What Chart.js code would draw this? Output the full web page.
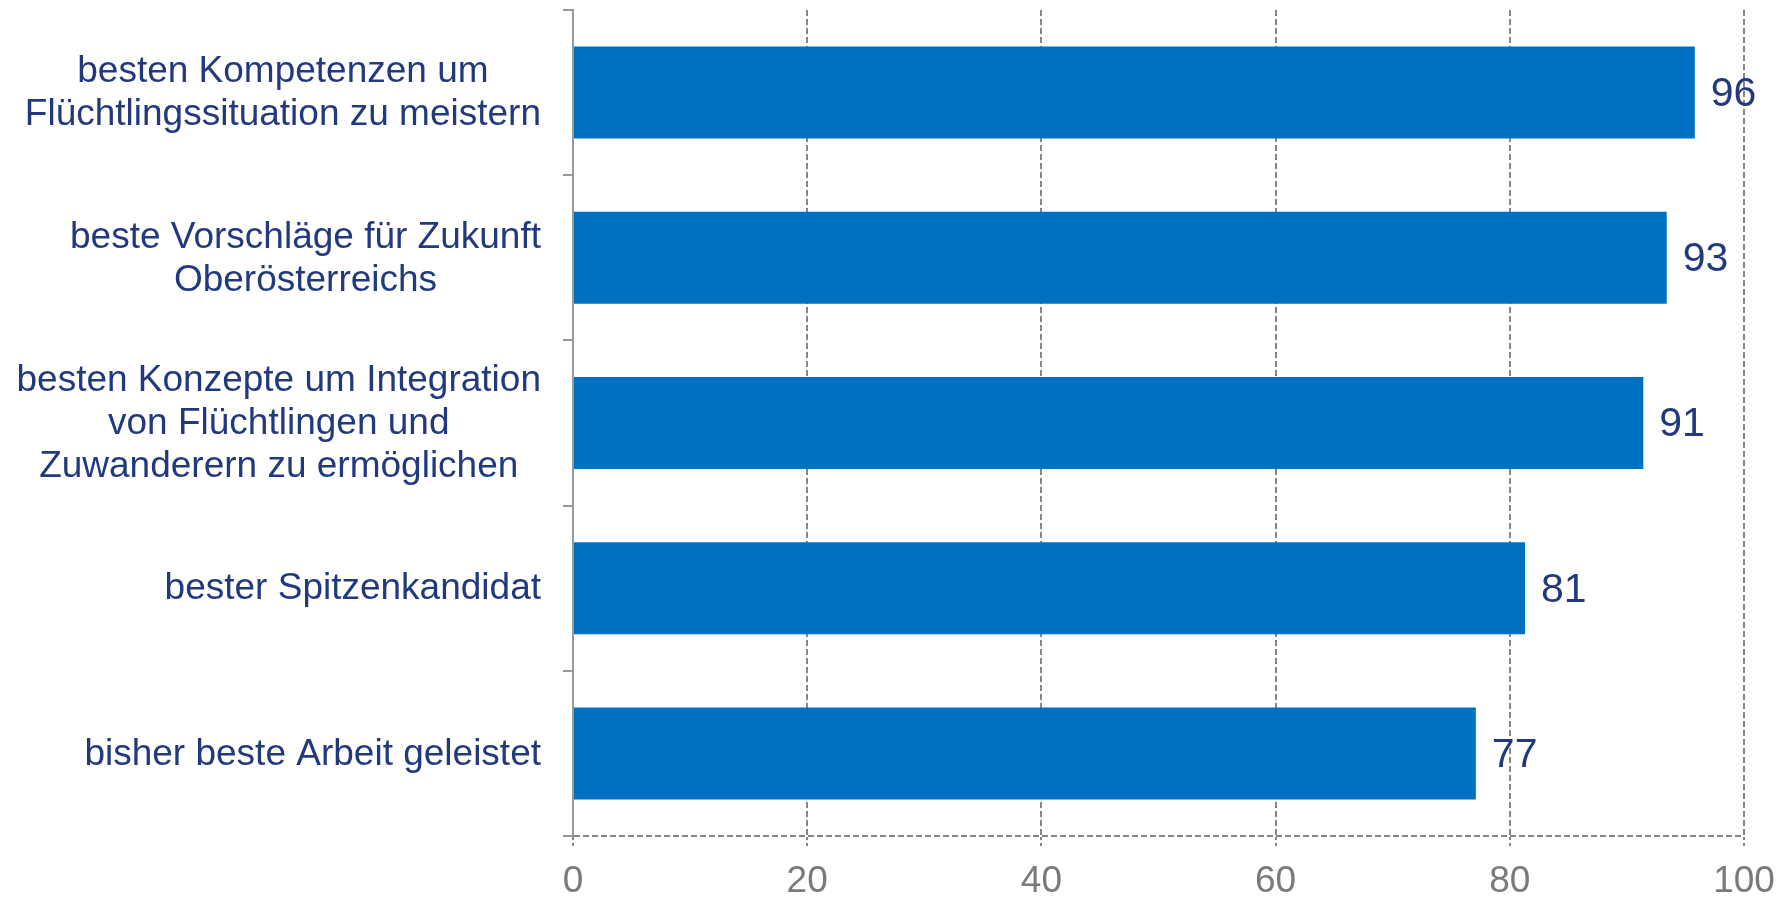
<!DOCTYPE html>
<html>
<head>
<meta charset="utf-8">
<script src="https://cdn.jsdelivr.net/npm/chart.js@4"></script>
<style>
  html, body { margin: 0; padding: 0; background: #fff; }
  #wrap { width: 1790px; height: 898px; }
</style>
</head>
<body>
<div id="wrap"><canvas id="graph1" width="1790" height="898"></canvas></div>
<script>
var categories = [
    ['besten Kompetenzen um', 'Flüchtlingssituation zu meistern'],
    ['beste Vorschläge für Zukunft', 'Oberösterreichs'],
    ['besten Konzepte um Integration', 'von Flüchtlingen und', 'Zuwanderern zu ermöglichen'],
    ['bester Spitzenkandidat'],
    ['bisher beste Arbeit geleistet']
];
var values = [95.8, 93.4, 91.4, 81.3, 77.1];
var xTicks = [0, 20, 40, 60, 80, 100];

var navy = '#223A7D';
var gridGrey = '#868686';
var font = 'Arial, "Liberation Sans", sans-serif';

// labels of the categories: block right aligned, lines centered inside
var catLabels = {
    id: 'catLabels',
    afterDraw: function (chart) {
        var ctx = chart.ctx;
        var y = chart.scales.y;
        ctx.save();
        ctx.font = '37px ' + font;
        ctx.fillStyle = navy;
        ctx.textAlign = 'center';
        ctx.textBaseline = 'middle';
        categories.forEach(function (lines, i) {
            var w = 0;
            lines.forEach(function (l) { w = Math.max(w, ctx.measureText(l).width); });
            var cx = 541 - w / 2;
            var cy = y.getPixelForValue(i) + 1;
            var lh = 43;
            lines.forEach(function (l, j) {
                ctx.fillText(l, cx, cy + (j - (lines.length - 1) / 2) * lh);
            });
        });
        ctx.restore();
    }
};

// value labels at the end of each bar
var valueLabels = {
    id: 'valueLabels',
    afterDatasetsDraw: function (chart) {
        var ctx = chart.ctx;
        var meta = chart.getDatasetMeta(0);
        ctx.save();
        ctx.font = '41px ' + font;
        ctx.fillStyle = navy;
        ctx.textAlign = 'left';
        ctx.textBaseline = 'middle';
        meta.data.forEach(function (bar, i) {
            ctx.fillText(Math.round(values[i]), bar.x + 16, bar.y + 2);
        });
        ctx.restore();
    }
};

var ctx = document.getElementById('graph1').getContext('2d');
var graph1 = new Chart(ctx, {
    type: 'bar',
    data: {
        labels: categories,
        datasets: [{
            data: values,
            backgroundColor: '#0070C0',
            borderWidth: 0,
            barPercentage: 0.557,
            categoryPercentage: 1
        }]
    },
    options: {
        indexAxis: 'y',
        responsive: false,
        animation: false,
        layout: { padding: { top: 10, right: 46, left: 0, bottom: 0 } },
        plugins: { legend: { display: false }, tooltip: { enabled: false } },
        scales: {
            x: {
                min: 0,
                max: 100,
                afterBuildTicks: function (scale) {
                    scale.ticks = xTicks.map(function (v) { return { value: v }; });
                },
                afterFit: function (scale) { scale.height = 62; },
                grid: {
                    color: gridGrey,
                    lineWidth: 2,
                    drawTicks: true,
                    tickLength: 11,
                    tickColor: gridGrey,
                    tickWidth: 2,
                    tickBorderDash: [3, 3]
                },
                // solid axis line hidden, the dashed one comes from the y grid
                border: { display: true, color: 'transparent', width: 2, dash: [6, 3] },
                ticks: {
                    color: '#7a7a7a',
                    font: { size: 37, family: font },
                    padding: 13,
                    maxRotation: 0
                }
            },
            y: {
                afterFit: function (scale) { scale.width = 573; },
                grid: {
                    drawOnChartArea: true,
                    // only the last boundary line (bottom) is drawn across the chart
                    color: function (c) { return c.type === 'scale' ? gridGrey : 'transparent'; },
                    lineWidth: 2,
                    drawTicks: true,
                    tickLength: 10,
                    tickColor: '#999999',
                    tickWidth: 2,
                    offset: true
                },
                border: { display: true, color: '#999999', width: 2, dash: [6, 3] },
                ticks: { display: false }
            }
        }
    },
    plugins: [catLabels, valueLabels]
});
</script>
</body>
</html>
